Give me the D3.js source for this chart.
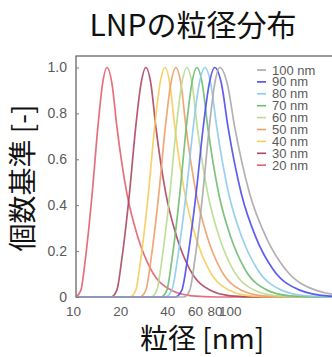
<!DOCTYPE html>
<html><head><meta charset="utf-8">
<script src="https://cdn.jsdelivr.net/npm/d3@7"></script>
<style>html,body{margin:0;padding:0;background:#fff;}svg{display:block;}</style>
</head><body>
<script>
// ---- data ----
const title = "LNPの粒径分布";
const xLabel = "粒径 [nm]";
const yLabel = "個数基準 [-]";
const xTicks = [10, 20, 40, 60, 80, 100];
const yTicks = [0, 0.2, 0.4, 0.6, 0.8, 1.0];
const yTickLabels = ["0", "0.2", "0.4", "0.6", "0.8", "1.0"];
const seriesNames = ["100 nm", "90 nm", "80 nm", "70 nm", "60 nm", "50 nm", "40 nm", "30 nm", "20 nm"];
const seriesColors = ["#a9a9a9", "#4b4bef", "#8dcbec", "#6fbd6f", "#b9dc8f", "#ee9f6a", "#f6cd5a", "#ad4860", "#e2606f"];

// [size nm, relative frequency]
const n20 = [[10,0],[10.75,0.03],[11.45,0.16],[12.68,0.45],[13.79,0.74],[14.78,0.93],[15.76,1],[16.96,0.93],[18.25,0.74],[21.13,0.45],[24.83,0.26],[30.04,0.12],[40.28,0.03],[54.81,0.005],[79.08,0],[430,0]];
const n30 = [[10,0],[16.73,0],[18.22,0.03],[19.56,0.16],[21.92,0.45],[24.04,0.74],[26.00,0.93],[27.92,1],[30.04,0.93],[32.33,0.74],[37.43,0.45],[43.98,0.26],[53.22,0.12],[71.37,0.03],[97.11,0.005],[140.1,0],[430,0]];
const n40 = [[10,0],[22.11,0],[24.07,0.03],[25.85,0.16],[28.96,0.45],[31.76,0.74],[34.36,0.93],[36.89,1],[39.69,0.93],[42.71,0.74],[49.46,0.45],[58.12,0.26],[70.33,0.12],[94.30,0.03],[128.3,0.005],[185.1,0],[430,0]];
const n50 = [[10,0],[25.56,0],[27.92,0.03],[30.04,0.16],[33.78,0.45],[37.16,0.74],[40.28,0.93],[43.34,1],[46.71,0.93],[50.34,0.74],[58.47,0.45],[68.90,0.26],[83.74,0.12],[112.9,0.03],[154.6,0.005],[224.7,0],[430,0]];
const n60 = [[10,0],[30.04,0],[32.80,0.03],[35.30,0.16],[39.69,0.45],[43.66,0.74],[47.33,0.93],[50.93,1],[55.01,0.93],[59.41,0.74],[69.30,0.45],[82.10,0.26],[100.3,0.12],[136.5,0.03],[188.6,0.005],[277.1,0],[430,0]];
const n70 = [[10,0],[34.79,0],[37.99,0.03],[40.88,0.16],[45.97,0.45],[50.56,0.74],[54.81,0.93],[58.98,1],[63.93,0.93],[69.30,0.74],[81.44,0.45],[97.25,0.26],[119.9,0.12],[165.6,0.03],[232.4,0.005],[347.8,0],[430,0]];
const n80 = [[10,0],[37.10,0],[40.88,0.03],[44.31,0.16],[50.41,0.45],[55.99,0.74],[61.18,0.93],[66.32,1],[72.42,0.93],[79.08,0.74],[94.30,0.45],[114.4,0.26],[143.9,0.12],[204.6,0.03],[296.0,0.005],[459.6,0]];
const n90 = [[10,0],[42.97,0],[47.33,0.03],[51.31,0.16],[58.38,0.45],[64.83,0.74],[70.85,0.93],[76.80,1],[84.67,0.93],[93.34,0.74],[113.5,0.45],[140.5,0.26],[181.1,0.12],[267.5,0.03],[403.1,0.005],[656.5,0]];
const n100 = [[10,0],[48.74,0],[53.22,0.03],[57.28,0.16],[64.40,0.45],[70.85,0.74],[76.80,0.93],[82.65,1],[92.25,0.93],[103.0,0.74],[128.3,0.45],[163.4,0.26],[217.6,0.12],[337.8,0.03],[536.2,0.005],[929.3,0]];
const seriesData = [n100, n90, n80, n70, n60, n50, n40, n30, n20];

// ---- drawing ----
const W = 332, H = 357;
const svg = d3.select("body").append("svg").attr("width", W).attr("height", H);

const x = d3.scaleLog().domain([10, 430]).range([76, 332]);
const y = d3.scaleLinear().domain([0, 1.05]).range([297, 56]);

svg.append("defs").append("clipPath").attr("id", "clip")
  .append("rect").attr("x", 76).attr("y", 50).attr("width", 260).attr("height", 249);

const line = d3.line().x(d => x(d[0])).y(d => y(d[1])).curve(d3.curveMonotoneX);

const plot = svg.append("g").attr("clip-path", "url(#clip)");
// draw 20 nm first, 100 nm last
for (let i = seriesData.length - 1; i >= 0; i--) {
  plot.append("path").datum(seriesData[i])
    .attr("d", line).attr("fill", "none")
    .attr("stroke", seriesColors[i]).attr("stroke-width", 1.7)
    .attr("stroke-opacity", 0.9);
}

// frame
const axisColor = "#7a7a7a";
svg.append("line").attr("x1", 76).attr("x2", 76).attr("y1", 56).attr("y2", 297.5)
  .attr("stroke", axisColor).attr("stroke-width", 1.5);
svg.append("line").attr("x1", 75.5).attr("x2", 332).attr("y1", 56).attr("y2", 56)
  .attr("stroke", axisColor).attr("stroke-width", 1.5);

// y axis ticks (inward) and labels
const yAxis = d3.axisLeft(y).tickValues(yTicks).tickSizeInner(-3).tickSizeOuter(0)
  .tickFormat((d, i) => yTickLabels[i]).tickPadding(9);
const gy = svg.append("g").attr("transform", "translate(76,0)").call(yAxis);
gy.select(".domain").remove();
gy.selectAll(".tick line").attr("stroke", axisColor);
gy.selectAll(".tick text").attr("fill", "#5a5a5a")
  .style("font-family", "'Liberation Sans', Arial, sans-serif").style("font-size", "14px");

// x axis labels
const xAxis = d3.axisBottom(x).tickValues(xTicks).tickSizeInner(0).tickSizeOuter(0)
  .tickFormat(d3.format("d")).tickPadding(9);
const gx = svg.append("g").attr("transform", "translate(-3,297)").call(xAxis);
gx.select(".domain").remove();
gx.selectAll(".tick text").attr("fill", "#5a5a5a")
  .style("font-family", "'Liberation Sans', Arial, sans-serif").style("font-size", "13.5px");

// legend
const lg = svg.append("g");
seriesNames.forEach((name, i) => {
  const yy = 70 + i * 11.9;
  lg.append("line").attr("x1", 257).attr("x2", 266).attr("y1", yy).attr("y2", yy)
    .attr("stroke", seriesColors[i]).attr("stroke-width", 1.6);
  lg.append("text").attr("x", 272).attr("y", yy + 4.5).text(name)
    .attr("fill", "#5a5a5a")
    .style("font-family", "'Liberation Sans', Arial, sans-serif").style("font-size", "13px");
});

// titles
const cjk = "'Noto Sans CJK JP', 'Noto Sans', sans-serif";
svg.append("text").attr("x", 193).attr("y", 36).attr("text-anchor", "middle")
  .style("font-family", cjk).style("font-size", "30px").attr("fill", "#111").text(title);
svg.append("text").attr("x", 202).attr("y", 349).attr("text-anchor", "middle")
  .style("font-family", cjk).style("font-size", "28px").attr("fill", "#111").text(xLabel);
svg.append("text").attr("transform", "translate(33,178) rotate(-90)").attr("text-anchor", "middle")
  .style("font-family", cjk).style("font-size", "28px").attr("fill", "#111").text(yLabel);
</script>
</body></html>
